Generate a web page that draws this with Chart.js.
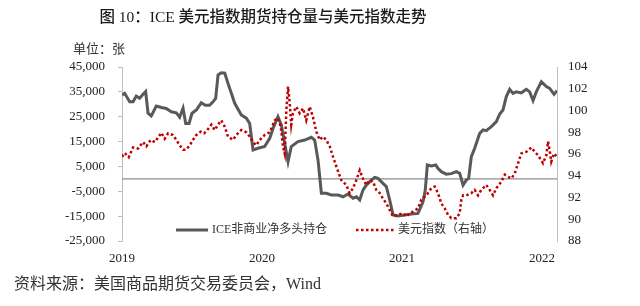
<!DOCTYPE html>
<html>
<head>
<meta charset="utf-8">
<script src="https://cdn.jsdelivr.net/npm/chart.js@4/dist/chart.umd.min.js"></script>
<style>
  body { margin: 0; background: #fff; }
</style>
</head>
<body>
<canvas id="chart" width="640" height="306"></canvas>
<script>
// Tick labels
const yearTicks = [2019, 2020, 2021, 2022];
const leftTicks = [-25000, -15000, -5000, 5000, 15000, 25000, 35000, 45000];
const rightTicks = [88, 90, 92, 94, 96, 98, 100, 102, 104];

// ICE non-commercial net long (contracts), x in fractional years
const iceYears = [2019.000, 2019.019, 2019.055, 2019.079, 2019.102, 2019.126, 2019.150, 2019.169, 2019.186, 2019.209,
  2019.245, 2019.281, 2019.316, 2019.352, 2019.388, 2019.412, 2019.436, 2019.455, 2019.479, 2019.500,
  2019.531, 2019.566, 2019.595, 2019.626, 2019.650, 2019.669, 2019.686, 2019.709, 2019.734, 2019.757,
  2019.781, 2019.805, 2019.852, 2019.888, 2019.912, 2019.936, 2019.971, 2020.019, 2020.055, 2020.079,
  2020.114, 2020.138, 2020.162, 2020.186, 2020.209, 2020.257, 2020.305, 2020.352, 2020.376, 2020.400,
  2020.424, 2020.459, 2020.495, 2020.543, 2020.579, 2020.614, 2020.650, 2020.674, 2020.698, 2020.721,
  2020.745, 2020.781, 2020.805, 2020.829, 2020.864, 2020.888, 2020.912, 2020.936, 2020.971, 2021.019,
  2021.066, 2021.114, 2021.150, 2021.166, 2021.181, 2021.209, 2021.241, 2021.257, 2021.281, 2021.316,
  2021.352, 2021.388, 2021.412, 2021.436, 2021.459, 2021.476, 2021.495, 2021.519, 2021.555, 2021.579,
  2021.602, 2021.638, 2021.674, 2021.698, 2021.721, 2021.745, 2021.769, 2021.793, 2021.816, 2021.852,
  2021.888, 2021.912, 2021.936, 2021.959, 2021.995, 2022.031, 2022.055, 2022.086, 2022.107];
const iceValues = [33700, 34400, 31000, 31000, 33300, 32400, 34000, 35100, 26400, 25300,
  29300, 28700, 28300, 27000, 26600, 24800, 28400, 22300, 22300, 26400,
  27700, 30600, 29600, 29600, 31000, 32400, 41800, 42700, 42500, 38400,
  34400, 30400, 25700, 24400, 22300, 11600, 12300, 13000, 16300, 20300,
  25000, 21700, 14300, 6900, 13000, 15000, 15600, 16700, 15600, 7600,
  -5800, -5800, -6500, -6500, -7200, -6100, -7800, -7200, -8500, -4500,
  -2500, -500, 600, 200, -1800, -3100, -8500, -14500, -14900, -14500,
  -14100, -13900, -9200, -4500, 5600, 5200, 5600, 4200, 2900, 1900,
  2100, 2900, 2200, -2500, -500, 200, 8900, 12300, 18300, 19700,
  19400, 21000, 23000, 26100, 27700, 33100, 36000, 34400, 35000, 34600,
  36000, 35000, 31500, 35000, 39100, 37100, 36400, 34000, 35500];

// US dollar index (right axis)
const dxyYears = [2019.000, 2019.019, 2019.048, 2019.079, 2019.114, 2019.150, 2019.174, 2019.205, 2019.234, 2019.257,
  2019.281, 2019.305, 2019.329, 2019.364, 2019.388, 2019.412, 2019.436, 2019.459, 2019.484, 2019.507,
  2019.531, 2019.562, 2019.586, 2019.609, 2019.638, 2019.662, 2019.686, 2019.709, 2019.734, 2019.757,
  2019.793, 2019.816, 2019.852, 2019.888, 2019.912, 2019.936, 2019.959, 2019.984, 2020.019, 2020.055,
  2020.091, 2020.114, 2020.134, 2020.150, 2020.162, 2020.174, 2020.186, 2020.198, 2020.209, 2020.221,
  2020.245, 2020.269, 2020.293, 2020.316, 2020.341, 2020.364, 2020.388, 2020.412, 2020.436, 2020.459,
  2020.484, 2020.507, 2020.531, 2020.566, 2020.602, 2020.626, 2020.650, 2020.674, 2020.698, 2020.721,
  2020.745, 2020.769, 2020.793, 2020.816, 2020.841, 2020.864, 2020.888, 2020.912, 2020.936, 2020.971,
  2021.007, 2021.031, 2021.055, 2021.079, 2021.114, 2021.138, 2021.174, 2021.209, 2021.234, 2021.257,
  2021.281, 2021.305, 2021.329, 2021.352, 2021.388, 2021.412, 2021.424, 2021.436, 2021.459, 2021.495,
  2021.519, 2021.543, 2021.566, 2021.602, 2021.626, 2021.650, 2021.674, 2021.709, 2021.734, 2021.757,
  2021.781, 2021.805, 2021.829, 2021.852, 2021.888, 2021.924, 2021.948, 2021.971, 2022.007, 2022.031,
  2022.043, 2022.055, 2022.066, 2022.086, 2022.106];
const dxyValues = [95.75, 96.1, 95.7, 96.6, 96.5, 97.1, 96.7, 97.3, 97.1, 97.5,
  97.95, 97.4, 97.9, 97.75, 97.3, 96.8, 96.4, 96.4, 96.8, 97.3,
  97.75, 98.05, 97.9, 98.2, 98.7, 98.2, 98.7, 99.1, 98.5, 97.6,
  97.3, 97.75, 98.2, 98.0, 97.6, 97.1, 96.8, 97.3, 97.75, 98.0,
  99.1, 99.3, 98.5, 96.7, 96.05, 100.05, 102.2, 100.7, 98.7, 99.75,
  100.35, 99.75, 100.2, 99.1, 100.35, 99.4, 98.05, 97.3, 97.6, 97.3,
  96.7, 95.75, 94.85, 93.6, 93.15, 92.4, 92.85, 93.6, 94.5, 93.75,
  93.15, 93.6, 93.45, 92.7, 92.4, 91.9, 91.45, 90.85, 90.25, 90.4,
  90.55, 90.25, 90.55, 90.7, 91.0, 91.8, 92.2, 92.85, 93.0, 92.4,
  91.45, 91.0, 90.4, 90.1, 90.1, 90.55, 91.8, 92.2, 92.2, 92.4,
  92.7, 92.2, 92.7, 93.15, 92.7, 92.2, 92.85, 93.45, 94.1, 93.9,
  93.75, 94.2, 95.15, 96.05, 96.2, 96.6, 96.2, 95.9, 95.15, 95.9,
  97.15, 96.3, 95.3, 96.05, 95.75];

const iceLabel = "ICE非商业净多头持仓";
const dxyLabel = "美元指数（右轴）";

const SERIF = '"Liberation Serif", "Noto Sans CJK SC"';
const grey = "#595959";
const red = "#c00000";

// Titles, unit, legend, source and the zero line
const decor = {
  id: "decor",
  beforeDatasetsDraw(chart) {
    const c = chart.ctx;
    const area = chart.chartArea;
    const y0 = chart.scales.yL.getPixelForValue(0);
    c.save();
    c.strokeStyle = "#8c8c8c";
    c.lineWidth = 1.2;
    c.beginPath();
    c.moveTo(area.left, y0);
    c.lineTo(area.right, y0);
    c.stroke();
    c.restore();
  },
  afterDraw(chart) {
    const c = chart.ctx;
    c.save();
    c.textBaseline = "middle";

    c.fillStyle = "#1a1a1a";
    c.textAlign = "center";
    c.font = "500 15.5px " + SERIF;
    c.fillText("图 10：ICE 美元指数期货持仓量与美元指数走势", 263, 18);

    c.textAlign = "left";
    c.fillStyle = "#333";
    c.font = "13px " + SERIF;
    c.fillText("单位：张", 73, 50);

    // legend
    c.font = "12px " + SERIF;
    c.strokeStyle = grey;
    c.lineWidth = 3;
    c.beginPath();
    c.moveTo(176, 230);
    c.lineTo(208, 230);
    c.stroke();
    c.fillText(iceLabel, 212, 230);

    c.strokeStyle = red;
    c.lineWidth = 2.5;
    c.setLineDash([2.5, 2.5]);
    c.beginPath();
    c.moveTo(356, 230);
    c.lineTo(395, 230);
    c.stroke();
    c.setLineDash([]);
    c.fillText(dxyLabel, 398, 230);

    c.font = "16px " + SERIF;
    c.fillText("资料来源：美国商品期货交易委员会，Wind", 14, 285);
    c.restore();
  }
};

const ctx = document.getElementById("chart").getContext("2d");

const chart = new Chart(ctx, {
  type: "line",
  data: {
    datasets: [
      {
        label: iceLabel,
        data: iceYears.map((x, i) => ({ x: x, y: iceValues[i] })),
        yAxisID: "yL",
        borderColor: grey,
        borderWidth: 3,
        pointRadius: 0,
        tension: 0,
        order: 1
      },
      {
        label: dxyLabel,
        data: dxyYears.map((x, i) => ({ x: x, y: dxyValues[i] })),
        yAxisID: "yR",
        borderColor: red,
        borderWidth: 2.5,
        borderDash: [2.5, 2.5],
        pointRadius: 0,
        tension: 0,
        order: 0
      }
    ]
  },
  options: {
    responsive: false,
    animation: false,
    layout: { padding: { top: 67, left: 0, right: 0, bottom: 0 } },
    plugins: {
      legend: { display: false },
      tooltip: { enabled: false }
    },
    scales: {
      x: {
        type: "linear",
        min: 2019,
        max: 2022.107,
        afterBuildTicks: s => { s.ticks = yearTicks.map(v => ({ value: v })); },
        afterFit: s => { s.height = 65; },
        grid: { display: false, drawTicks: false },
        border: { display: false },
        ticks: {
          autoSkip: false,
          maxRotation: 0,
          padding: 10,
          color: "#222",
          font: { family: SERIF, size: 13 },
          callback: v => String(v)
        }
      },
      yL: {
        position: "left",
        min: -25000,
        max: 45000,
        afterBuildTicks: s => { s.ticks = leftTicks.map(v => ({ value: v })); },
        afterFit: s => { s.width = 122; },
        grid: { drawOnChartArea: false, tickLength: 4, tickColor: "#bfbfbf" },
        border: { color: "#bfbfbf" },
        ticks: {
          padding: 13,
          color: "#222",
          font: { family: SERIF, size: 13 }
        }
      },
      yR: {
        position: "right",
        min: 88,
        max: 104,
        afterBuildTicks: s => { s.ticks = rightTicks.map(v => ({ value: v })); },
        afterFit: s => { s.width = 83; },
        grid: { drawOnChartArea: false, drawTicks: false },
        border: { color: "#bfbfbf" },
        ticks: {
          padding: 11,
          color: "#222",
          font: { family: SERIF, size: 13 }
        }
      }
    }
  },
  plugins: [decor]
});
</script>
</body>
</html>
